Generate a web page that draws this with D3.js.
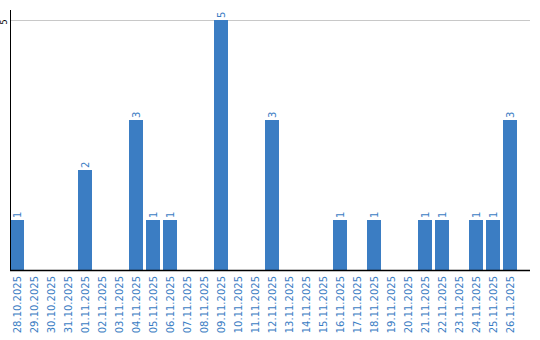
<!DOCTYPE html>
<html>
<head>
<meta charset="utf-8">
<script src="https://cdn.jsdelivr.net/npm/d3@7"></script>
<style>
  body { margin: 0; background: #fff; }
  text { font-family: "DejaVu Sans", sans-serif; }
</style>
</head>
<body>
<div class="chart"></div>
<script>
// Dates along the x axis
const dates = [
  "28.10.2025", "29.10.2025", "30.10.2025", "31.10.2025", "01.11.2025",
  "02.11.2025", "03.11.2025", "04.11.2025", "05.11.2025", "06.11.2025",
  "07.11.2025", "08.11.2025", "09.11.2025", "10.11.2025", "11.11.2025",
  "12.11.2025", "13.11.2025", "14.11.2025", "15.11.2025", "16.11.2025",
  "17.11.2025", "18.11.2025", "19.11.2025", "20.11.2025", "21.11.2025",
  "22.11.2025", "23.11.2025", "24.11.2025", "25.11.2025", "26.11.2025",
];
// Counts per day
const counts = [1, 0, 0, 0, 2, 0, 0, 3, 1, 1, 0, 0, 5, 0, 0, 3, 0, 0, 0, 1, 0, 1, 0, 0, 1, 1, 0, 1, 1, 3];
const yTicks = [5];

const W = 540, H = 340;
const plotLeft = 10, plotRight = 517, plotTop = 20, plotBottom = 270;
const blue = "#3b7dc3";

const svg = d3.select(".chart").append("svg").attr("width", W).attr("height", H);

const x = d3.scaleBand().domain(dates).range([plotLeft, plotRight]).paddingInner(3 / 17).paddingOuter(0);
const y = d3.scaleLinear().domain([0, 5]).range([plotBottom, plotTop]);

// gridlines
svg.selectAll(".grid")
  .data(yTicks)
  .join("line")
  .attr("x1", plotLeft).attr("x2", 530)
  .attr("y1", d => y(d) + 0.5).attr("y2", d => y(d) + 0.5)
  .attr("stroke", "#c8c8c8");

// y tick labels (rotated)
svg.selectAll(".ytick")
  .data(yTicks)
  .join("text")
  .attr("transform", d => `translate(7,${y(d) + 2}) rotate(-90)`)
  .attr("text-anchor", "middle")
  .style("font-size", "8px")
  .style("fill", "#000")
  .text(d => d);

// bars
const data = dates.map((d, i) => ({ date: d, value: counts[i] }));
svg.selectAll(".bar")
  .data(data.filter(d => d.value > 0))
  .join("rect")
  .attr("x", d => x(d.date))
  .attr("y", d => y(d.value))
  .attr("width", x.bandwidth())
  .attr("height", d => plotBottom - y(d.value))
  .attr("fill", blue);

// value labels
svg.selectAll(".val")
  .data(data.filter(d => d.value > 0))
  .join("text")
  .attr("transform", d => `translate(${x(d.date) + x.bandwidth() / 2 + 4},${y(d.value) - 2}) rotate(-90)`)
  .attr("text-anchor", "start")
  .style("font-size", "10px")
  .style("fill", blue)
  .text(d => d.value);

// x labels
svg.selectAll(".xlab")
  .data(dates)
  .join("text")
  .attr("transform", d => `translate(${x(d) + x.bandwidth() / 2 + 4},276) rotate(-90)`)
  .attr("text-anchor", "end")
  .style("font-size", "10px")
  .style("fill", blue)
  .text(d => d);

// axes lines
svg.append("line")
  .attr("x1", plotLeft + 0.5).attr("x2", plotLeft + 0.5)
  .attr("y1", 10).attr("y2", plotBottom)
  .attr("stroke", "#000").attr("stroke-width", 1);
svg.append("line")
  .attr("x1", plotLeft).attr("x2", 530)
  .attr("y1", plotBottom + 0.5).attr("y2", plotBottom + 0.5)
  .attr("stroke", "#000").attr("stroke-width", 1.5);
</script>
</body>
</html>
